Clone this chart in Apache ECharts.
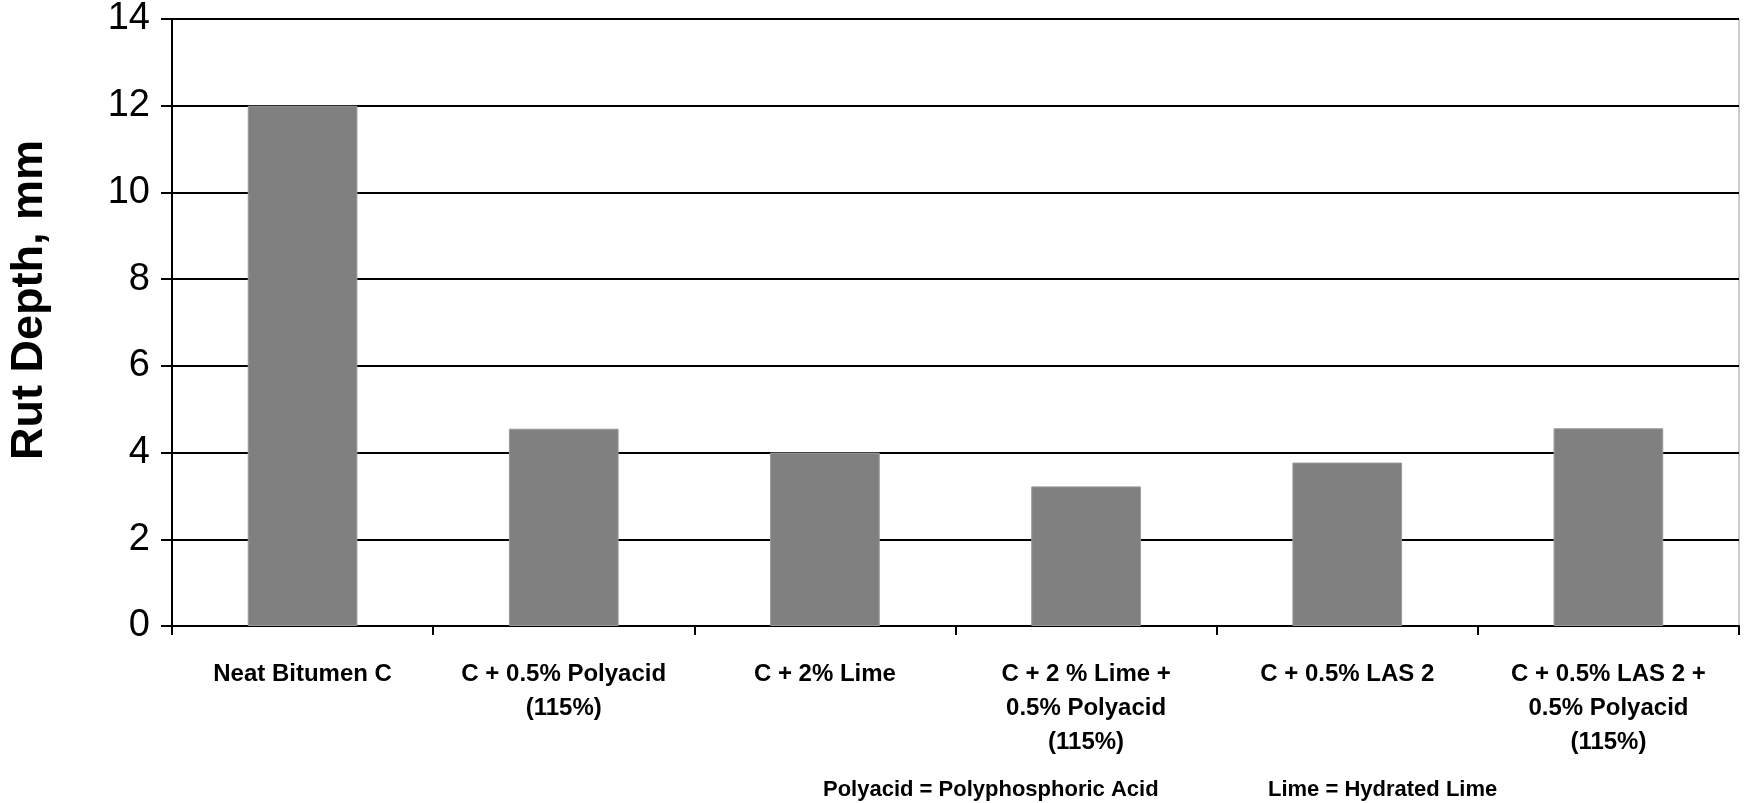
<!DOCTYPE html>
<html>
<head>
<meta charset="utf-8">
<script src="https://cdn.jsdelivr.net/npm/echarts@6/dist/echarts.min.js"></script>
<style>
html,body{margin:0;padding:0;background:#fff;}
#chart{width:1744px;height:803px;}
</style>
</head>
<body>
<div id="chart"></div>
<script>
const categories = [
  "Neat Bitumen C",
  "C + 0.5% Polyacid\n(115%)",
  "C + 2% Lime",
  "C + 2 % Lime +\n0.5% Polyacid\n(115%)",
  "C + 0.5% LAS 2",
  "C + 0.5% LAS 2 +\n0.5% Polyacid\n(115%)"
];
const rutDepth = [12.0, 4.55, 4.0, 3.22, 3.77, 4.56];
const yTicks = { min: 0, max: 14, interval: 2 };
const yTitle = "Rut Depth, mm";
const footnotes = ["Polyacid = Polyphosphoric Acid", "Lime = Hydrated Lime"];

const FONT = "'Liberation Sans', Arial, Helvetica, sans-serif";
const chart = echarts.init(document.getElementById('chart'), null, {renderer: 'canvas'});
chart.setOption({
  animation: false,
  backgroundColor: '#fff',
  grid: { left: 172, right: 5, top: 19, bottom: 177, show: true, borderColor: '#999', borderWidth: 1, backgroundColor: 'transparent' },
  xAxis: {
    type: 'category',
    data: categories,
    boundaryGap: true,
    axisLine: { show: true, lineStyle: { color: '#000', width: 2 } },
    axisTick: { show: true, length: 9, lineStyle: { color: '#000', width: 2 } },
    axisLabel: {
      interval: 0, margin: 31, color: '#000',
      fontFamily: FONT, fontSize: 24, fontWeight: 'bold', lineHeight: 34
    },
    splitLine: { show: false }
  },
  yAxis: {
    type: 'value',
    min: yTicks.min, max: yTicks.max, interval: yTicks.interval,
    axisLine: { show: true, lineStyle: { color: '#000', width: 2 } },
    axisTick: { show: true, length: 11, lineStyle: { color: '#000', width: 2 } },
    axisLabel: { margin: 22, color: '#000', fontFamily: FONT, fontSize: 38 },
    splitLine: { show: true, lineStyle: { color: '#000', width: 2 } }
  },
  series: [{
    type: 'bar',
    data: rutDepth,
    barWidth: '42%',
    itemStyle: { color: '#808080', borderColor: '#9a9a9a', borderWidth: 1 },
    z: 1
  }],
  graphic: [
    { type: 'text', x: 30, y: 300, rotation: Math.PI / 2,
      style: { text: yTitle, fill: '#000', font: 'bold 45px ' + FONT, textAlign: 'center', textVerticalAlign: 'middle' } },
    { type: 'text', x: 823, y: 790,
      style: { text: footnotes[0], fill: '#000', font: 'bold 22px ' + FONT, textAlign: 'left', textVerticalAlign: 'middle' } },
    { type: 'text', x: 1268, y: 790,
      style: { text: footnotes[1], fill: '#000', font: 'bold 22px ' + FONT, textAlign: 'left', textVerticalAlign: 'middle' } }
  ]
});
</script>
</body>
</html>
